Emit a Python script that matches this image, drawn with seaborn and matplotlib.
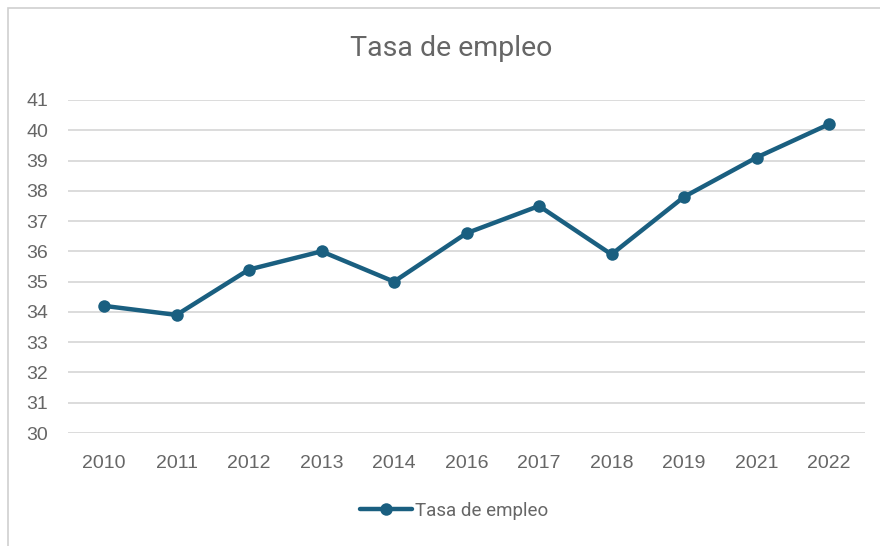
import matplotlib
matplotlib.use("Agg")
import matplotlib.pyplot as plt
import seaborn as sns
import pandas as pd
from matplotlib.patches import Rectangle
from matplotlib.lines import Line2D

years = ["2010", "2011", "2012", "2013", "2014", "2016", "2017", "2018", "2019", "2021", "2022"]
tasa = [34.2, 33.9, 35.4, 36.0, 35.0, 36.6, 37.5, 35.9, 37.8, 39.1, 40.2]
series_name = "Tasa de empleo"
title = "Tasa de empleo"
y_ticks = list(range(30, 42))

df = pd.DataFrame({"year": years, "value": tasa})

sns.set_theme(style="white")
plt.rcParams["font.family"] = ["Liberation Sans", "DejaVu Sans"]

W, H = 880, 546
fig = plt.figure(figsize=(W / 100, H / 100), dpi=100)
fig.patch.set_facecolor("white")

# chart frame
fig.add_artist(Rectangle((8 / W, -0.01), 1.02 - 8 / W, 1 - 8 / H + 0.01,
                         transform=fig.transFigure, fill=False,
                         edgecolor="#CFCFCF", linewidth=1.2))

ax = fig.add_axes([67.75 / W, 1 - 433 / H, (865.25 - 67.75) / W, (433 - 100) / H])
color = "#1A5F80"
x_pos = list(range(len(df)))
sns.lineplot(x=x_pos, y=df["value"], ax=ax, color=color, linewidth=3.2,
             marker="o", markersize=9, markeredgewidth=0, legend=False)

ax.set_xlim(-0.5, len(years) - 0.5)
ax.set_ylim(30, 41)
ax.set_yticks(y_ticks)
ax.set_xticks(x_pos)
ax.set_xticklabels(df["year"])
ax.grid(axis="y", color="#D9D9D9", linewidth=1.3)
ax.set_axisbelow(True)
for s in ax.spines.values():
    s.set_visible(False)
ax.tick_params(axis="both", length=0, labelsize=14, colors="#666666")
ax.tick_params(axis="x", pad=16)
ax.tick_params(axis="y", pad=14)
ax.set_xlabel("")
ax.set_ylabel("")

fig.text(451 / W, 1 - 48 / H, title, ha="center", va="center",
         fontsize=20.5, color="#666666", family=["Roboto", "DejaVu Sans"])

handle = Line2D([], [], color=color, linewidth=3.2, marker="o", markersize=9,
                markeredgewidth=0)
fig.legend(handles=[handle], labels=[series_name], loc="center",
           bbox_to_anchor=(454 / W, 1 - 511 / H), frameon=False,
           prop={"family": ["Roboto", "DejaVu Sans"], "size": 13.5},
           labelcolor="#666666", handlelength=2.8, handletextpad=0.15)

fig.savefig("out.png", dpi=100, facecolor="white")
